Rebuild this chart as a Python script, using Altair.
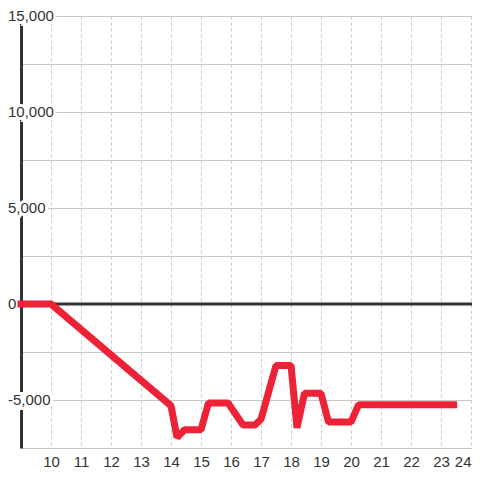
import altair as alt
import pandas as pd

hours = [9, 10, 14, 14.2, 14.45, 15.0, 15.25, 15.9, 16.4, 16.8, 17.0, 17.5, 18.0, 18.2, 18.45, 19.0, 19.25, 20.0, 20.25, 23.42]
values = [0, 0, -5300, -6950, -6550, -6550, -5150, -5150, -6300, -6300, -6000, -3200, -3200, -6450, -4650, -4650, -6150, -6150, -5250, -5250]
x_ticks = list(range(10, 25))
y_grid = [-7500, -5000, -2500, 0, 2500, 5000, 7500, 10000, 12500, 15000]
y_label_values = [15000, 10000, 5000, 0, -5000]
y_label_texts = ["15,000", "10,000", "5,000", "0", "-5,000"]

FONT = "Liberation Sans"
BG = "#ffffff"
TXT = "#333333"

df = pd.DataFrame({"hour": hours, "value": values})
labels_df = pd.DataFrame({"value": y_label_values, "label": y_label_texts})
zero_df = pd.DataFrame({"value": [0]})

xscale = alt.Scale(domain=[9, 24.0333], nice=False, zero=False)
yscale = alt.Scale(domain=[-7500, 15000], nice=False, zero=False)

x_enc = alt.X(
    "hour:Q", scale=xscale,
    axis=alt.Axis(values=x_ticks, grid=True, gridDash=[3, 3], gridColor="#c8c8c8",
                  domain=False, ticks=False, labelFont=FONT, labelFontSize=15,
                  labelColor=TXT, labelPadding=6, labelFlush=False, title=None,
                  labelAlign=alt.expr("datum.value == 24 ? 'right' : 'center'")),
)
y_enc = alt.Y(
    "value:Q", scale=yscale,
    axis=alt.Axis(values=y_grid, grid=True, gridColor="#c8c8c8", domain=True,
                  domainColor=TXT, domainWidth=3, ticks=False, labels=False, title=None),
)

zero = alt.Chart(zero_df).mark_rule(color=TXT, strokeWidth=3).encode(y=y_enc)

label_bg = alt.Chart(labels_df).mark_text(
    align="left", baseline="middle", font=FONT, fontSize=15,
    fill=BG, stroke=BG, strokeWidth=6,
).encode(y=y_enc, text="label:N", x=alt.value(-13))

label_fg = alt.Chart(labels_df).mark_text(
    align="left", baseline="middle", font=FONT, fontSize=15, color=TXT,
).encode(y=y_enc, text="label:N", x=alt.value(-13))

line = alt.Chart(df).mark_line(
    color="#ee2236", strokeWidth=7, strokeCap="square", strokeJoin="bevel"
).encode(x=x_enc, y=y_enc)

chart = alt.layer(zero, label_bg, label_fg, line).properties(
    width=451, height=432, autosize="none",
    padding={"left": 13, "top": 8, "right": 0, "bottom": 24},
    background=BG,
).configure_view(stroke=None)

chart.save("out.html", embed_options={"renderer": "svg", "actions": False})
